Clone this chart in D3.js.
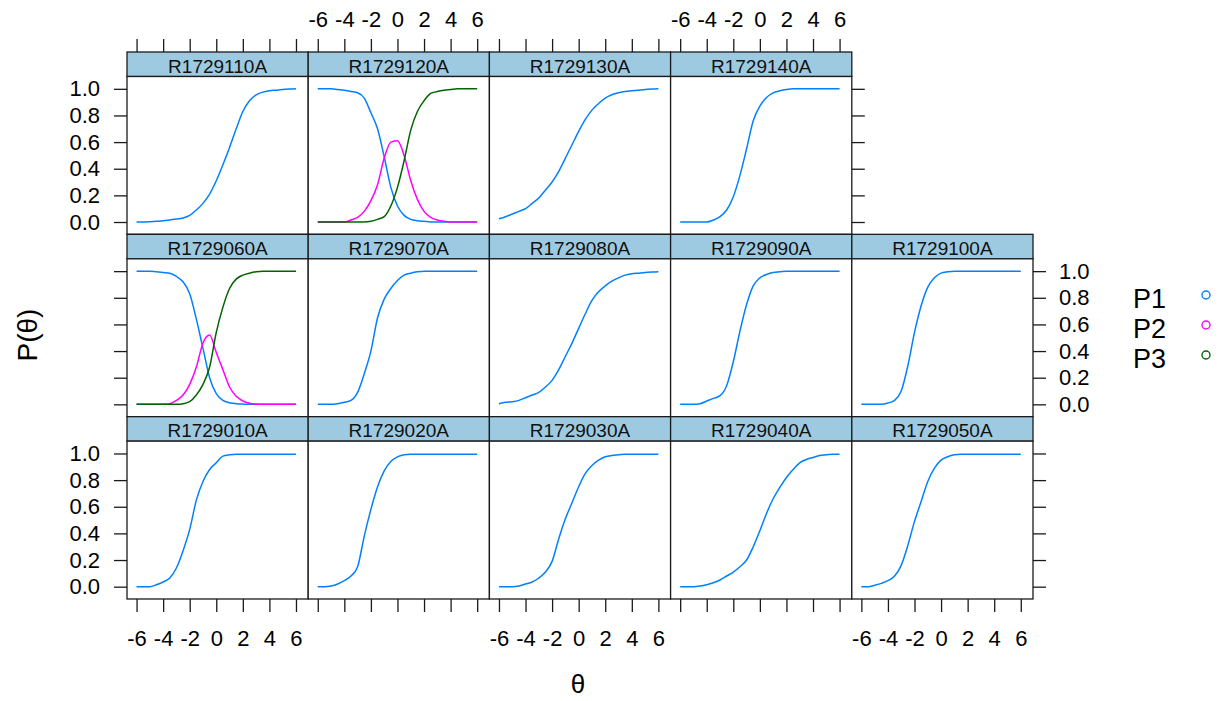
<!DOCTYPE html>
<html><head><meta charset="utf-8">
<script src="https://cdn.jsdelivr.net/npm/d3@7"></script>
<style>
body{margin:0;background:#fff}
svg{display:block;font-family:"Liberation Sans",Arial,sans-serif}
</style>
</head><body><svg id="c" width="1224" height="701"></svg>
<script>
// ---- data ----
const theta = [-6,-5.5,-5,-4.5,-4,-3.5,-3,-2.5,-2,-1.5,-1,-0.5,0,0.5,1,1.5,2,2.5,3,3.5,4,4.5,5,5.5,6];
const categories = ["P1","P2","P3"];
const catColors = ["#0080ff","#ff00ff","#006400"];
const xTicks = [-6,-4,-2,0,2,4,6];
const yTicks = [0,0.2,0.4,0.6,0.8,1.0];
const rowsLayout = [
  ["R1729110A","R1729120A","R1729130A","R1729140A",null],
  ["R1729060A","R1729070A","R1729080A","R1729090A","R1729100A"],
  ["R1729010A","R1729020A","R1729030A","R1729040A","R1729050A"]
];
const R1729110A_P1 = [0,0,0.002,0.005,0.01,0.015,0.022,0.03,0.05,0.09,0.14,0.21,0.31,0.43,0.56,0.70,0.83,0.91,0.955,0.975,0.985,0.99,0.995,0.998,1.0];
const R1729120A_P1 = [1,1,1,0.995,0.99,0.98,0.97,0.93,0.82,0.70,0.49,0.26,0.12,0.05,0.02,0.01,0.005,0,0,0,0,0,0,0,0];
const R1729120A_P2 = [0,0,0,0,0,0.015,0.035,0.08,0.16,0.28,0.48,0.60,0.61,0.50,0.31,0.17,0.08,0.035,0.015,0.005,0,0,0,0,0];
const R1729120A_P3 = [0,0,0,0,0,0,0,0,0.005,0.02,0.04,0.12,0.26,0.46,0.69,0.83,0.91,0.965,0.98,0.99,0.995,1,1,1,1];
const R1729130A_P1 = [0.025,0.04,0.06,0.08,0.10,0.14,0.18,0.24,0.30,0.38,0.48,0.58,0.68,0.77,0.84,0.89,0.93,0.955,0.97,0.98,0.985,0.99,0.995,0.998,1.0];
const R1729140A_P1 = [0,0,0,0,0,0.015,0.04,0.09,0.19,0.35,0.55,0.76,0.87,0.935,0.97,0.985,0.995,1,1,1,1,1,1,1,1];
const R1729060A_P1 = [1,1,1,0.995,0.99,0.985,0.96,0.92,0.83,0.64,0.42,0.20,0.08,0.03,0.012,0.005,0.002,0,0,0,0,0,0,0,0];
const R1729060A_P2 = [0,0,0,0,0,0.005,0.03,0.07,0.15,0.28,0.46,0.52,0.39,0.26,0.13,0.06,0.025,0.008,0.002,0,0,0,0,0,0];
const R1729060A_P3 = [0,0,0,0,0,0,0,0.005,0.02,0.07,0.15,0.28,0.54,0.73,0.87,0.94,0.97,0.985,0.995,1,1,1,1,1,1];
const R1729070A_P1 = [0,0,0,0.005,0.015,0.03,0.09,0.23,0.40,0.65,0.79,0.87,0.93,0.97,0.985,0.995,1,1,1,1,1,1,1,1,1];
const R1729080A_P1 = [0.005,0.015,0.02,0.03,0.05,0.07,0.09,0.13,0.18,0.26,0.36,0.46,0.57,0.68,0.78,0.845,0.89,0.925,0.95,0.97,0.98,0.985,0.99,0.993,0.995];
const R1729090A_P1 = [0,0,0,0.005,0.025,0.045,0.065,0.14,0.32,0.55,0.75,0.89,0.95,0.975,0.99,0.995,1,1,1,1,1,1,1,1,1];
const R1729100A_P1 = [0,0,0,0,0.01,0.03,0.10,0.29,0.54,0.74,0.88,0.95,0.985,0.995,1,1,1,1,1,1,1,1,1,1,1];
const R1729010A_P1 = [0,0,0,0.015,0.035,0.065,0.14,0.27,0.43,0.65,0.79,0.88,0.93,0.98,0.99,0.995,0.995,0.995,0.995,0.995,0.995,0.995,0.995,0.995,0.995];
const R1729020A_P1 = [0,0,0.005,0.02,0.045,0.08,0.15,0.38,0.58,0.75,0.87,0.94,0.975,0.99,0.995,0.995,0.995,0.995,0.995,0.995,0.995,0.995,0.995,0.995,0.995];
const R1729030A_P1 = [0,0,0,0.005,0.02,0.035,0.065,0.11,0.19,0.36,0.51,0.63,0.75,0.85,0.91,0.95,0.975,0.985,0.99,0.995,0.995,0.995,0.995,0.995,0.995];
const R1729040A_P1 = [0,0,0,0.005,0.015,0.03,0.05,0.08,0.11,0.15,0.20,0.30,0.42,0.55,0.66,0.745,0.82,0.88,0.93,0.955,0.97,0.985,0.99,0.995,0.995];
const R1729050A_P1 = [0,0,0.01,0.025,0.045,0.08,0.16,0.31,0.49,0.64,0.79,0.89,0.95,0.975,0.99,0.995,0.995,0.995,0.995,0.995,0.995,0.995,0.995,0.995,0.995];

const seriesByItem = {
  R1729110A:[R1729110A_P1],
  R1729120A:[R1729120A_P1,R1729120A_P2,R1729120A_P3],
  R1729130A:[R1729130A_P1],
  R1729140A:[R1729140A_P1],
  R1729060A:[R1729060A_P1,R1729060A_P2,R1729060A_P3],
  R1729070A:[R1729070A_P1],
  R1729080A:[R1729080A_P1],
  R1729090A:[R1729090A_P1],
  R1729100A:[R1729100A_P1],
  R1729010A:[R1729010A_P1],
  R1729020A:[R1729020A_P1],
  R1729030A:[R1729030A_P1],
  R1729040A:[R1729040A_P1],
  R1729050A:[R1729050A_P1]
};

// ---- layout ----
const svg = d3.select("#c");
const left = 127, colW = 181.2, top0 = 52, rowH = 182.33, stripH = 24.5;
const bodyH = rowH - stripH;
const nCols = 5, nRows = 3;
const x = d3.scaleLinear().domain([-6.72, 6.92]).range([0, colW]);
const y = d3.scaleLinear().domain([-0.0925, 1.0925]).range([bodyH, 0]);
const tickLen = 13, tickFont = 22;
const lineGen = d3.line().x(d => x(d[0])).y(d => y(d[1])).curve(d3.curveMonotoneX);
const borderCol = "#1a1a1a";
const fmtX = d => String(d);          // ASCII hyphen minus like the reference
const fmtY = d => d.toFixed(1);

function styleAxis(g){
  g.select(".domain").remove();
  g.selectAll(".tick line").attr("stroke", borderCol).attr("stroke-width", 1.3);
  g.selectAll(".tick text").attr("font-size", tickFont).attr("fill", "#000")
    .attr("font-family", '"Liberation Sans",Arial,sans-serif');
}

rowsLayout.forEach((row, r) => {
  const rowTop = top0 + r * rowH;
  row.forEach((name, c) => {
    if (!name) return;
    const px = left + c * colW;
    const g = svg.append("g").attr("transform", `translate(${px},${rowTop})`);
    g.append("rect").attr("x",0).attr("y",0).attr("width",colW).attr("height",stripH)
      .attr("fill","#9ecae1").attr("stroke",borderCol).attr("stroke-width",1.3);
    g.append("text").attr("x", colW/2).attr("y", 20.5).attr("text-anchor","middle")
      .attr("font-size",19).attr("fill","#111").text(name);
    const body = g.append("g").attr("transform", `translate(0,${stripH})`);
    body.append("rect").attr("width",colW).attr("height",bodyH)
      .attr("fill","#fff").attr("stroke",borderCol).attr("stroke-width",1.3);
    seriesByItem[name].forEach((vals, k) => {
      body.append("path")
        .datum(theta.map((t,i) => [t, vals[i]]))
        .attr("fill","none").attr("stroke", catColors[k]).attr("stroke-width",1.5)
        .attr("d", lineGen);
    });
  });
});

// top axis (row 0, cols 0..3), labels on cols 1,3
for (let c = 0; c < 4; c++) {
  const lab = c % 2 === 1;
  const g = svg.append("g").attr("transform", `translate(${left + c*colW},${top0})`)
    .call(d3.axisTop(x).tickValues(xTicks).tickSize(tickLen).tickSizeOuter(0).tickPadding(12)
      .tickFormat(d => lab ? fmtX(d) : ""));
  styleAxis(g);
}
// bottom axis, labels on cols 0,2,4
const bottomY = top0 + 3*rowH;
for (let c = 0; c < nCols; c++) {
  const lab = c % 2 === 0;
  const g = svg.append("g").attr("transform", `translate(${left + c*colW},${bottomY})`)
    .call(d3.axisBottom(x).tickValues(xTicks).tickSize(tickLen).tickSizeOuter(0).tickPadding(18)
      .tickFormat(d => lab ? fmtX(d) : ""));
  styleAxis(g);
}
// left axis, labels on rows 0,2
for (let r = 0; r < nRows; r++) {
  const lab = r % 2 === 0;
  const g = svg.append("g").attr("transform", `translate(${left},${top0 + r*rowH + stripH})`)
    .call(d3.axisLeft(y).tickValues(yTicks).tickSize(tickLen).tickSizeOuter(0).tickPadding(14)
      .tickFormat(d => lab ? fmtY(d) : ""));
  styleAxis(g);
}
// right axis
[[0, 4], [1, 5], [2, 5]].forEach(([r, edge]) => {
  const lab = r === 1;
  const g = svg.append("g").attr("transform", `translate(${left + edge*colW},${top0 + r*rowH + stripH})`)
    .call(d3.axisRight(y).tickValues(yTicks).tickSize(tickLen).tickSizeOuter(0).tickPadding(13)
      .tickFormat(d => lab ? fmtY(d) : ""));
  styleAxis(g);
});

// axis titles
svg.append("text").attr("transform","translate(37,335) rotate(-90)").attr("text-anchor","middle")
  .attr("font-size",28).attr("fill","#000").text("P(θ)");
svg.append("text").attr("x",578).attr("y",693).attr("text-anchor","middle")
  .attr("font-size",26).attr("fill","#000").text("θ");

// legend
const leg = svg.append("g");
categories.forEach((cat, i) => {
  const yy = 295 + i * 30;
  leg.append("text").attr("x",1133).attr("y", yy + 13).attr("font-size",27).attr("fill","#000").text(cat);
  leg.append("circle").attr("cx",1206).attr("cy",yy).attr("r",4)
    .attr("fill","none").attr("stroke",catColors[i]).attr("stroke-width",1.4);
});
</script>
</body></html>
